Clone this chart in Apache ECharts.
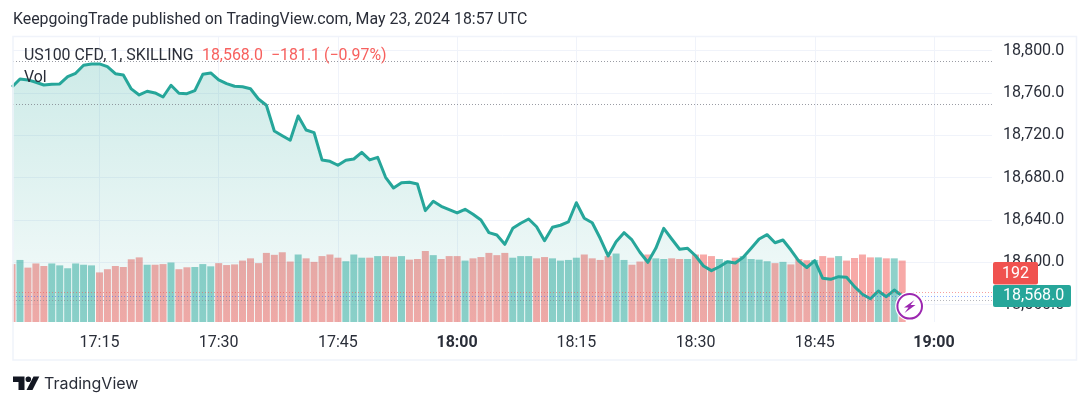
<!DOCTYPE html>
<html>
<head>
<meta charset="utf-8">
<script src="https://cdn.jsdelivr.net/npm/echarts@6/dist/echarts.min.js"></script>
<style>html,body{margin:0;padding:0;background:#fff}#c{width:1090px;height:407px}</style>
</head>
<body>
<div id="c"></div>
<script>
const categories = ["17:04","17:05","17:06","17:07","17:08","17:09","17:10","17:11","17:12","17:13","17:14","17:15","17:16","17:17","17:18","17:19","17:20","17:21","17:22","17:23","17:24","17:25","17:26","17:27","17:28","17:29","17:30","17:31","17:32","17:33","17:34","17:35","17:36","17:37","17:38","17:39","17:40","17:41","17:42","17:43","17:44","17:45","17:46","17:47","17:48","17:49","17:50","17:51","17:52","17:53","17:54","17:55","17:56","17:57","17:58","17:59","18:00","18:01","18:02","18:03","18:04","18:05","18:06","18:07","18:08","18:09","18:10","18:11","18:12","18:13","18:14","18:15","18:16","18:17","18:18","18:19","18:20","18:21","18:22","18:23","18:24","18:25","18:26","18:27","18:28","18:29","18:30","18:31","18:32","18:33","18:34","18:35","18:36","18:37","18:38","18:39","18:40","18:41","18:42","18:43","18:44","18:45","18:46","18:47","18:48","18:49","18:50","18:51","18:52","18:53","18:54","18:55","18:56"];
const prices = [18765.5,18773.1,18772.2,18770.0,18767.4,18768.1,18768.4,18775.3,18778.5,18786.1,18787.3,18787.3,18784.7,18778.1,18776.9,18763.7,18758.0,18761.5,18759.9,18756.1,18767.2,18759.6,18759.2,18762.1,18777.5,18778.8,18772.2,18768.7,18766.2,18765.8,18763.9,18754.2,18748.3,18724.0,18719.5,18715.2,18738.1,18724.9,18722.4,18696.6,18695.3,18691.6,18696.3,18697.5,18703.8,18696.6,18699.1,18680.2,18670.1,18675.1,18675.5,18673.9,18648.7,18657.5,18652.8,18649.6,18646.5,18650.0,18645.3,18639.9,18627.9,18625.7,18616.9,18632.0,18636.8,18640.8,18633.5,18620.3,18633.0,18634.9,18638.0,18656.2,18641.5,18637.3,18622.6,18605.9,18619.4,18627.9,18621.0,18609.4,18599.9,18613.1,18632.0,18621.9,18612.2,18613.1,18606.1,18596.4,18592.0,18595.7,18600.5,18599.2,18604.6,18613.1,18621.9,18626.0,18618.4,18621.0,18611.5,18601.1,18595.0,18601.4,18584.8,18583.8,18586.3,18585.7,18576.9,18569.7,18565.5,18572.8,18567.4,18573.7,18568.0];
const volumes = [181,194,170,183,175,183,177,168,183,179,177,155,165,175,172,196,202,179,179,181,186,165,171,172,181,174,184,178,180,192,199,184,216,210,218,189,211,199,188,206,211,201,190,211,201,201,206,206,204,206,195,197,222,209,197,206,206,192,199,203,216,209,216,201,206,206,199,203,199,192,194,201,211,199,194,206,214,194,179,189,211,199,197,199,197,197,211,211,206,197,192,201,206,197,195,190,184,188,180,197,193,194,206,201,206,192,200,211,202,202,199,199,192];
const volumeUp = [0,1,0,0,0,1,1,1,1,1,1,0,0,0,0,0,0,1,0,0,1,0,0,1,1,1,0,0,0,0,0,0,0,0,0,0,1,0,0,0,0,0,1,1,1,0,1,0,0,1,0,0,0,1,0,0,0,1,0,0,0,0,0,1,1,1,0,0,1,1,1,1,0,0,0,0,1,1,0,0,0,1,1,0,0,1,0,0,0,1,1,0,1,1,1,1,0,1,0,0,0,1,0,0,1,0,0,0,0,1,0,1,0];
const priceTicks = [18800,18760,18720,18680,18640,18600,18560];
const timeTicks = ["17:15","17:30","17:45","18:00","18:15","18:30","18:45","19:00"];
const priceLines = [
  {value:18790.0,color:'rgba(120,123,134,0.75)'},
  {value:18749.2,color:'rgba(120,123,134,0.75)'},
  {value:18571.3,color:'rgba(239,83,80,0.55)'},
  {value:18568.0,color:'rgba(41,98,255,0.5)'},
  {value:18564.2,color:'rgba(120,123,134,0.55)'}
];
const toMin = s => { const [h,m] = s.split(':').map(Number); return h*60+m; };
const fmt = v => v.toLocaleString('en-US',{minimumFractionDigits:1,maximumFractionDigits:1});
const font = 'Roboto';
const ink = '#2a2e39';
const red = 'rgba(239,83,80,0.5)', teal = 'rgba(38,166,154,0.52)';

const chart = echarts.init(document.getElementById('c'),null,{renderer:'canvas'});
chart.setOption({
  animation:false,
  backgroundColor:'#fff',
  grid:{left:13,top:36,width:979,height:286,containLabel:false},
  xAxis:{
    type:'value',min:1024.12,max:1147.3,
    axisLine:{show:false},
    axisTick:{show:false,customValues:timeTicks.map(toMin)},
    splitLine:{show:true,lineStyle:{color:'#f0f3fa',width:1}},
    axisLabel:{
      customValues:timeTicks.map(toMin),margin:13,
      fontFamily:font,fontSize:16,color:ink,
      hideOverlap:false,showMinLabel:true,showMaxLabel:true,
      formatter:v=>{const h=Math.floor(v/60),m=v%60;const s=h+':'+String(m).padStart(2,'0');return m===0?'{b|'+s+'}':s;},
      rich:{b:{fontFamily:font,fontSize:16,fontWeight:'bold',color:ink}}
    }
  },
  yAxis:[{
    type:'value',position:'right',min:18543.5,max:18813.7,
    axisLine:{show:false},
    axisTick:{show:false,customValues:priceTicks},
    splitLine:{show:true,lineStyle:{color:'#f0f3fa',width:1}},
    axisLabel:{customValues:priceTicks,margin:11,align:'left',fontFamily:font,fontSize:16,color:ink,formatter:v=>fmt(v),showMinLabel:true,showMaxLabel:true}
  },{
    type:'value',show:false,min:0,max:894,splitLine:{show:false}
  }],
  series:[{
    type:'bar',yAxisIndex:1,z:1,barWidth:7,clip:true,
    data:categories.map((c,i)=>({value:[toMin(c),volumes[i]],itemStyle:{color:volumeUp[i]?teal:red}}))
  },{
    type:'line',yAxisIndex:0,z:2,symbol:'none',smooth:false,
    lineStyle:{color:'#26a69a',width:3,join:'round'},
    itemStyle:{color:'#26a69a'},
    areaStyle:{origin:'start',color:new echarts.graphic.LinearGradient(0,0,0,1,[
      {offset:0,color:'rgba(38,166,154,0.32)'},
      {offset:1,color:'rgba(38,166,154,0.06)'}])},
    data:categories.map((c,i)=>[toMin(c),prices[i]]),
    markLine:{silent:true,symbol:'none',animation:false,label:{show:false},
      data:priceLines.map(p=>({yAxis:p.value,lineStyle:{color:p.color,type:[1,2],width:1}}))}
  }],
  graphic:[
    {type:'rect',z:50,silent:true,shape:{x:0,y:240,width:12.5,height:90},style:{fill:'#fff'}},
    {type:'rect',z:51,silent:true,shape:{x:13,y:36.5,width:1063.5,height:323.5},style:{fill:'none',stroke:'#f0f3fa',lineWidth:1.5}},
    {type:'text',z:100,x:13,y:20.5,style:{text:'KeepgoingTrade published on TradingView.com, May 23, 2024 18:57 UTC',font:'15.9px Roboto',fill:ink,verticalAlign:'middle'}},
    {type:'text',z:100,x:24,y:56.5,style:{text:'US100 CFD, 1, SKILLING',font:'15.9px Roboto',fill:ink,verticalAlign:'middle'}},
    {type:'text',z:100,x:202,y:56.5,style:{text:'18,568.0',font:'15.9px Roboto',fill:'#f7605e',verticalAlign:'middle'}},
    {type:'text',z:100,x:271,y:56.5,style:{text:'−181.1 (−0.97%)',font:'15.9px Roboto',fill:'#f7605e',verticalAlign:'middle'}},
    {type:'text',z:100,x:24,y:78.5,style:{text:'Vol',font:'15.9px Roboto',fill:ink,verticalAlign:'middle'}},
    {type:'rect',z:100,shape:{x:993,y:262,width:45,height:22.5,r:2},style:{fill:'#f0524f'}},
    {type:'text',z:101,x:1015.5,y:274,style:{text:String(volumes[volumes.length-1]),font:'16px Roboto',fill:'#fff',align:'center',verticalAlign:'middle'}},
    {type:'rect',z:100,shape:{x:993,y:285,width:78,height:22,r:2},style:{fill:'#26a69a'}},
    {type:'text',z:101,x:1003,y:296,style:{text:fmt(prices[prices.length-1]),font:'16px Roboto',fill:'#fff',verticalAlign:'middle'}},
    {type:'circle',z:100,shape:{cx:909.7,cy:306.3,r:14.5},style:{fill:'#fff'}},
    {type:'circle',z:101,shape:{cx:909.7,cy:306.3,r:12.3},style:{fill:'#fff',stroke:'#9c27b0',lineWidth:2}},
    {type:'polygon',z:102,shape:{points:[[914.5,300],[904,307.5],[908.5,307.5],[904.5,313],[915.5,305],[910.5,305]]},style:{fill:'#9c27b0'}},
    {type:'polygon',z:100,shape:{points:[[13,376.5],[24.5,376.5],[24.5,390],[18.5,390],[18.5,382],[13,382]]},style:{fill:'#131722'}},
    {type:'circle',z:100,shape:{cx:28.3,cy:379.3,r:2.8},style:{fill:'#131722'}},
    {type:'polygon',z:100,shape:{points:[[33.5,376.5],[39.3,376.5],[32.5,390],[26.5,390]]},style:{fill:'#131722'}},
    {type:'text',z:100,x:44,y:384,style:{text:'TradingView',font:'16px Inter',fill:'#2a2e39',verticalAlign:'middle'}}
  ]
});
</script>
</body>
</html>
